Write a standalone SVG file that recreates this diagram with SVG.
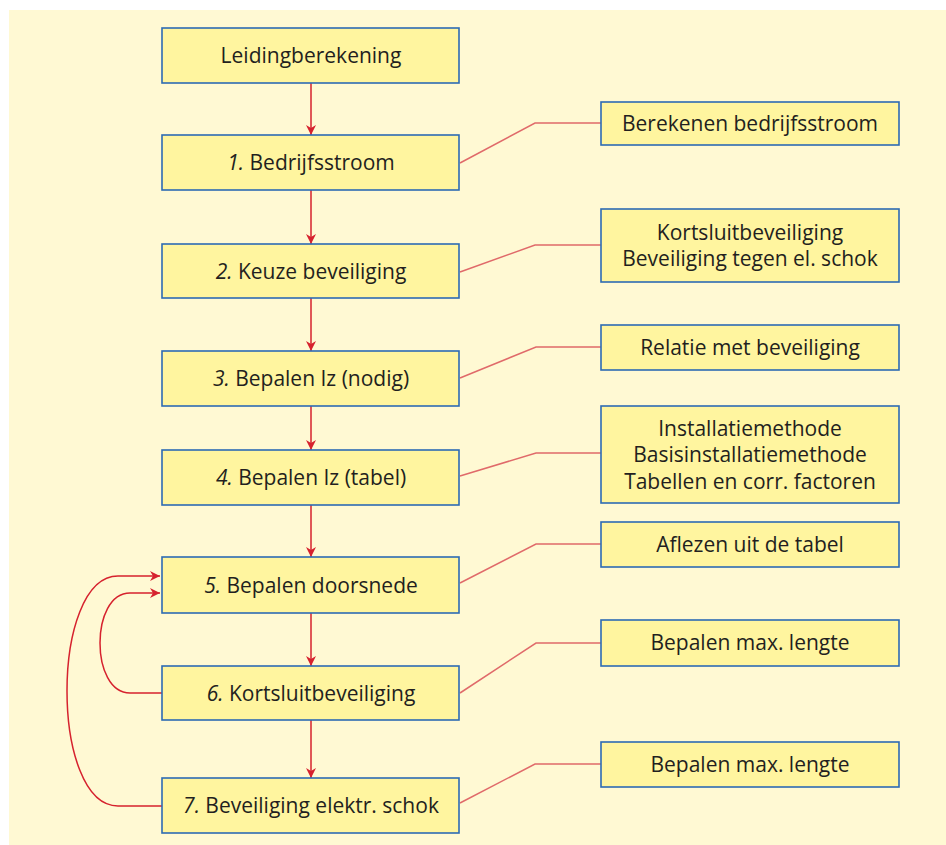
<svg xmlns="http://www.w3.org/2000/svg" width="946" height="845" viewBox="0 0 946 845">
<style>
.box{fill:#fff59f;stroke:#2d6bb3;stroke-width:1.6}
.t{font-family:"Open Sans","Liberation Sans",sans-serif;font-size:21px;fill:#231f20;text-anchor:middle}
.a{stroke:#d6222e;stroke-width:1.5;fill:none}
.c{stroke:#e06a6a;stroke-width:1.5;fill:none}
</style>
<defs>
<marker id="ah" viewBox="0 0 10 10" refX="10" refY="5" markerWidth="10" markerHeight="10" markerUnits="userSpaceOnUse" orient="auto">
<path d="M0,0 L10,5 L0,10 L3,5 Z" fill="#d6222e"/>
</marker>
</defs>
<rect x="0" y="0" width="946" height="845" fill="#ffffff"/>
<rect x="9" y="10" width="937" height="835" fill="#fff9d3"/>
<g id="connectors">
<line class="a" x1="311" y1="83" x2="311" y2="135" marker-end="url(#ah)"/>
<line class="a" x1="311" y1="190" x2="311" y2="244" marker-end="url(#ah)"/>
<line class="a" x1="311" y1="298" x2="311" y2="351" marker-end="url(#ah)"/>
<line class="a" x1="311" y1="406" x2="311" y2="450" marker-end="url(#ah)"/>
<line class="a" x1="311" y1="505" x2="311" y2="557" marker-end="url(#ah)"/>
<line class="a" x1="311" y1="613" x2="311" y2="666" marker-end="url(#ah)"/>
<line class="a" x1="311" y1="720" x2="311" y2="778" marker-end="url(#ah)"/>
<path class="a" d="M162,693 L130,693 C90,693 90,593 130,593 L160,593" marker-end="url(#ah)"/>
<path class="a" d="M162,806 L118,806 C50,806 50,576 118,576 L160,576" marker-end="url(#ah)"/>
<polyline class="c" points="460,163 535,123 601,123"/>
<polyline class="c" points="460,272 535,245 601,245"/>
<polyline class="c" points="460,378 536,347 601,347"/>
<polyline class="c" points="460,476 536,453 601,453"/>
<polyline class="c" points="460,583 536,544 601,544"/>
<polyline class="c" points="460,693 536,643 601,643"/>
<polyline class="c" points="460,803 535,764 601,764"/>
</g>
<g id="n0"><rect class="box" x="162" y="28" width="297" height="55"/><text class="t" x="311" y="63">Leidingberekening</text></g>
<g id="n1"><rect class="box" x="162" y="135" width="297" height="55"/><text class="t" x="311" y="170"><tspan font-style="italic">1.</tspan> Bedrijfsstroom</text></g>
<g id="n2"><rect class="box" x="162" y="244" width="297" height="54"/><text class="t" x="311" y="279"><tspan font-style="italic">2.</tspan> Keuze beveiliging</text></g>
<g id="n3"><rect class="box" x="162" y="351" width="297" height="55"/><text class="t" x="311" y="386"><tspan font-style="italic">3.</tspan> Bepalen Iz (nodig)</text></g>
<g id="n4"><rect class="box" x="162" y="450" width="297" height="55"/><text class="t" x="311" y="485"><tspan font-style="italic">4.</tspan> Bepalen Iz (tabel)</text></g>
<g id="n5"><rect class="box" x="162" y="557" width="297" height="56"/><text class="t" x="311" y="593"><tspan font-style="italic">5.</tspan> Bepalen doorsnede</text></g>
<g id="n6"><rect class="box" x="162" y="666" width="297" height="54"/><text class="t" x="311" y="701"><tspan font-style="italic">6.</tspan> Kortsluitbeveiliging</text></g>
<g id="n7"><rect class="box" x="162" y="778" width="297" height="55"/><text class="t" x="311" y="813"><tspan font-style="italic">7.</tspan> Beveiliging elektr. schok</text></g>
<g id="r1"><rect class="box" x="601" y="102" width="298" height="43"/><text class="t" x="750" y="131">Berekenen bedrijfsstroom</text></g>
<g id="r2"><rect class="box" x="601" y="209" width="298" height="73"/><text class="t" x="750" y="240">Kortsluitbeveiliging</text><text class="t" x="750" y="266">Beveiliging tegen el. schok</text></g>
<g id="r3"><rect class="box" x="601" y="325" width="298" height="45"/><text class="t" x="750" y="355">Relatie met beveiliging</text></g>
<g id="r4"><rect class="box" x="601" y="406" width="298" height="97"/><text class="t" x="750" y="436">Installatiemethode</text><text class="t" x="750" y="462">Basisinstallatiemethode</text><text class="t" x="750" y="489">Tabellen en corr. factoren</text></g>
<g id="r5"><rect class="box" x="601" y="522" width="298" height="45"/><text class="t" x="750" y="552">Aflezen uit de tabel</text></g>
<g id="r6"><rect class="box" x="601" y="620" width="298" height="46"/><text class="t" x="750" y="650">Bepalen max. lengte</text></g>
<g id="r7"><rect class="box" x="601" y="742" width="298" height="45"/><text class="t" x="750" y="772">Bepalen max. lengte</text></g>
</svg>
